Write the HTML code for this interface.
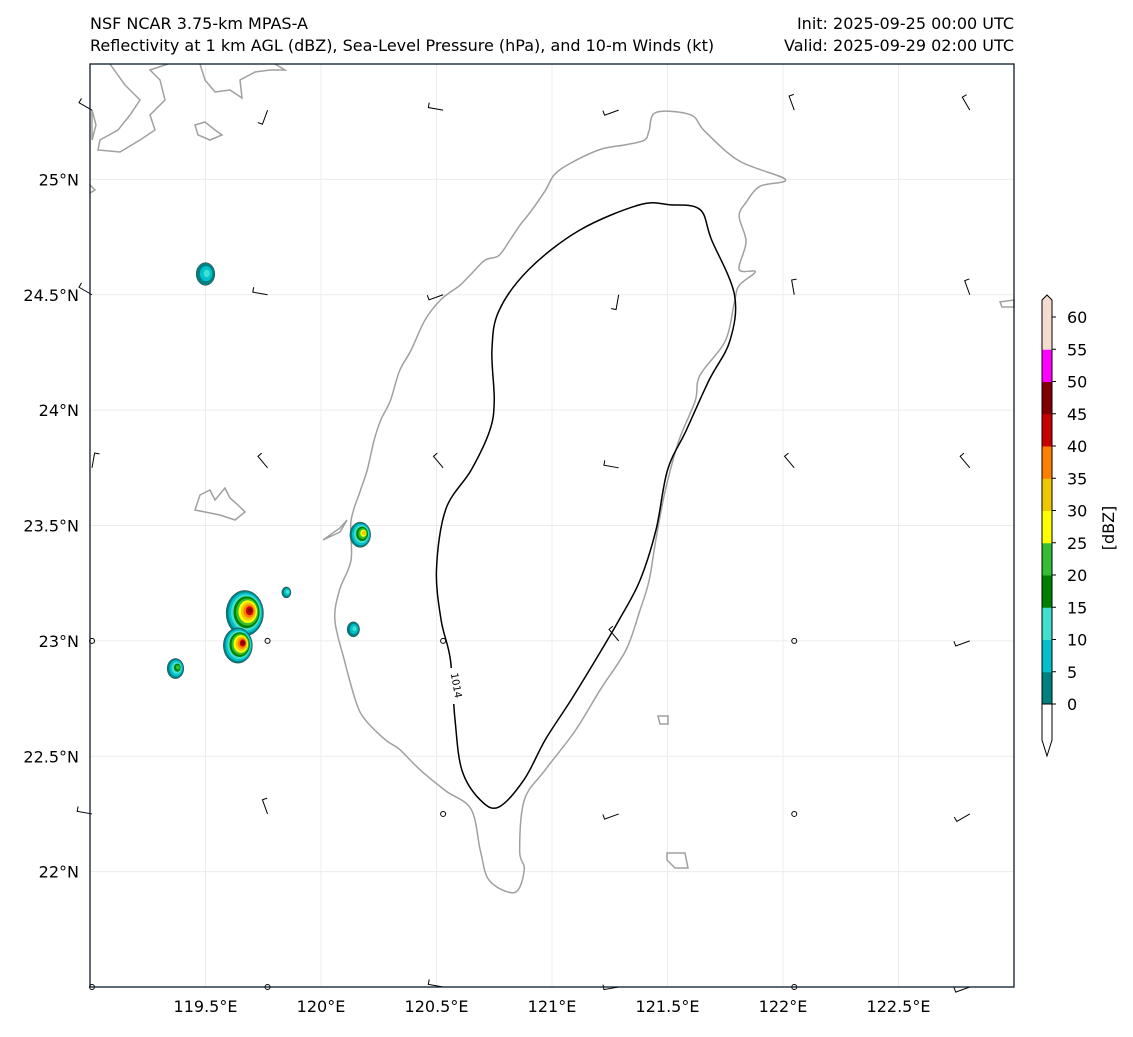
<!DOCTYPE html>
<html><head><meta charset="utf-8"><style>
body{margin:0;background:#fff;}
svg{font-family:"DejaVu Sans","Liberation Sans",sans-serif;}
</style></head><body>
<svg id="s" width="1133" height="1032" viewBox="0 0 1133 1032" xmlns="http://www.w3.org/2000/svg">
<text x="90" y="29" font-size="16">NSF NCAR 3.75-km MPAS-A</text>
<text x="90" y="51" font-size="16">Reflectivity at 1 km AGL (dBZ), Sea-Level Pressure (hPa), and 10-m Winds (kt)</text>
<text x="1014" y="29" font-size="16" text-anchor="end">Init: 2025-09-25 00:00 UTC</text>
<text x="1014" y="51" font-size="16" text-anchor="end">Valid: 2025-09-29 02:00 UTC</text>
<g id="grid"></g>
<g id="land"></g>
<g id="refl"></g>
<g id="slp"></g>
<g id="barbs"></g>
<rect x="90" y="64" width="924" height="923" fill="none" stroke="#0a1a2a" stroke-width="1.3"/>
<g id="axes"></g>
<g id="cbar"></g>
</svg>
<script>
const NS="http://www.w3.org/2000/svg";
const lonTicks=[119.5,120,120.5,121,121.5,122,122.5];
const lonLabels=["119.5°E","120°E","120.5°E","121°E","121.5°E","122°E","122.5°E"];
const latTicks=[25,24.5,24,23.5,23,22.5,22];
const latLabels=["25°N","24.5°N","24°N","23.5°N","23°N","22.5°N","22°N"];
const taiwanLon=[121.45,121.60,121.66,121.81,122.01,121.90,121.84,121.81,121.84,121.81,121.88,121.81,121.79,121.75,121.64,121.62,121.55,121.49,121.45,121.42,121.38,121.32,121.21,121.10,120.97,120.88,120.86,120.88,120.84,120.73,120.69,120.65,120.54,120.43,120.34,120.28,120.19,120.15,120.10,120.06,120.08,120.13,120.13,120.17,120.20,120.23,120.26,120.30,120.34,120.39,120.45,120.52,120.60,120.65,120.71,120.77,120.82,120.86,120.90,120.97,121.01,121.08,121.21,121.32,121.40,121.42];
const taiwanLat=[25.29,25.28,25.21,25.08,25.00,24.97,24.90,24.84,24.73,24.61,24.60,24.54,24.47,24.30,24.15,24.04,23.87,23.65,23.44,23.26,23.13,22.96,22.79,22.61,22.44,22.31,22.09,22.01,21.91,21.96,22.09,22.27,22.35,22.44,22.53,22.57,22.66,22.74,22.92,23.09,23.22,23.35,23.52,23.65,23.74,23.87,23.96,24.04,24.17,24.26,24.39,24.48,24.54,24.59,24.65,24.67,24.74,24.80,24.85,24.95,25.02,25.07,25.13,25.15,25.17,25.21];
const slpLon=[121.51,121.64,121.69,121.79,121.77,121.68,121.58,121.50,121.45,121.38,121.29,121.19,121.08,120.97,120.88,120.77,120.69,120.61,120.58,120.56,120.52,120.50,120.54,120.65,120.73,120.75,120.74,120.77,120.90,121.12,121.38];
const slpLat=[24.89,24.87,24.74,24.50,24.30,24.13,23.91,23.74,23.48,23.26,23.09,22.92,22.74,22.57,22.40,22.28,22.31,22.44,22.66,22.92,23.09,23.31,23.57,23.74,23.91,24.04,24.26,24.43,24.61,24.78,24.89];
const cellLon=[119.67,119.64,119.37,120.17,120.14,119.50,119.85];
const cellLat=[23.12,22.98,22.88,23.46,23.05,24.59,23.21];
const cellMax=[45,45,20,30,10,10,10];
const cellSize=[0.09,0.07,0.04,0.05,0.03,0.045,0.022];
const barbLon=[119.0,119.76,120.52,121.28,122.04,122.8];
const barbLat=[25.3,24.5,23.75,23.0,22.25,21.5];
const barbDir=[[300,200,280,250,340,330],[300,280,250,190,350,340],[10,320,320,280,320,320],[0,0,0,320,0,250],[280,340,0,250,0,240],[0,0,280,260,0,250]];
const levels=[0,5,10,15,20,25,30,35,40,45,50,55,60];
const colors=["#008080","#00c0cc","#40e0d0","#008000","#32c032","#ffff00","#f0c800","#ff8000","#c80000","#800000","#ff00ff","#f5dcd0"];
const X=lon=>90+(lon-119)*231, Y=lat=>64+(25.5-lat)*230.75;
function el(t,a,p){const e=document.createElementNS(NS,t);for(const k in a)e.setAttribute(k,a[k]);(p||document.getElementById('s')).appendChild(e);return e;}
const grid=document.getElementById('grid'),axes=document.getElementById('axes');
lonTicks.forEach((v,i)=>{const l=el('line',{x1:X(v),x2:X(v),y1:64,y2:987,stroke:"#ececec","stroke-width":1},grid);


const t=el('text',{x:X(v),y:1012,"font-size":16,"text-anchor":"middle"},axes);t.textContent=lonLabels[i];

});
latTicks.forEach((v,i)=>{const l=el('line',{x1:90,x2:1014,y1:Y(v),y2:Y(v),stroke:"#ececec","stroke-width":1},grid);


const t=el('text',{x:79,y:Y(v)+6,"font-size":16,"text-anchor":"end"},axes);t.textContent=latLabels[i];

});
function smooth(xs,ys,closed){const n=xs.length;let d=`M${xs[0]},${ys[0]}`;const g=i=>closed?(i+n)%n:Math.max(0,Math.min(n-1,i));
for(let i=0;i<(closed?n:n-1);i++){const p0=g(i-1),p1=g(i),p2=g(i+1),p3=g(i+2);
d+=`C${xs[p1]+(xs[p2]-xs[p0])/6},${ys[p1]+(ys[p2]-ys[p0])/6} ${xs[p2]-(xs[p3]-xs[p1])/6},${ys[p2]-(ys[p3]-ys[p1])/6} ${xs[p2]},${ys[p2]}`;}
return d+(closed?"Z":"");}
const land=document.getElementById('land');
const tw=el('path',{d:smooth(taiwanLon.map(X),taiwanLat.map(Y),true),fill:"none",stroke:"#a0a0a0","stroke-width":1.5},land);


const isl=["M195,510 L200,495 L210,490 L215,500 L225,488 L230,498 L238,505 L245,512 L235,520 L220,515 L205,512 Z",
"M323,540 L340,528 L347,520 L340,532 Z","M658,716 L668,716 L668,724 L660,724 Z","M667,853 L685,853 L688,868 L675,868 L667,860 Z",
"M1000,302 L1014,300 L1014,307 L1002,307 Z","M92,110 L96,125 L92,140 Z",
"M110,64 L125,85 L140,100 L130,115 L118,130 L100,140 L98,150 L120,152 L140,140 L155,130 L150,115 L165,100 L160,80 L150,70 L168,64",
"M195,125 L205,122 L215,130 L222,135 L210,140 L198,135 Z","M200,64 L205,80 L215,92 L230,90 L242,98 L240,80 L255,72 L270,70 L285,70 L275,64",
"M90,185 L95,190 L90,193"];
isl.forEach(d=>{const p=el('path',{d:d,fill:"none",stroke:"#a0a0a0","stroke-width":1.5},land);

});
const refl=document.getElementById('refl');
cellLon.forEach((lo,i)=>{const nLev=Math.floor(cellMax[i]/5)+1;for(let k=0;k<nLev&&k<colors.length;k++){const f=1-k/nLev;
const rx=cellSize[i]*231*f*0.9,ry=cellSize[i]*230*f*1.1;
const e=el('ellipse',{cx:X(lo)+k*0.6,cy:Y(cellLat[i])-k*0.3,rx:Math.max(rx,2),ry:Math.max(ry,2),fill:colors[k],stroke:k==0?"#444":"none","stroke-width":0.5},refl);

}});
const slp=document.getElementById('slp');
const c=el('path',{d:smooth(slpLon.map(X),slpLat.map(Y),true),fill:"none",stroke:"#000","stroke-width":1.5},slp);


const bg=el('rect',{x:448,y:668,width:14,height:36,fill:"#fff"},slp);


const lt=el('text',{x:0,y:0,"font-size":10,"text-anchor":"middle",transform:"translate(453,686) rotate(80)"},slp);lt.textContent="1014";


const barbs=document.getElementById('barbs');
barbLat.forEach((la,r)=>barbLon.forEach((lo,ci)=>{const x=X(lo)+2,y=Y(la),dir=barbDir[r][ci];
if(dir===0){const o=el('circle',{cx:x,cy:y,r:2.5,fill:"none",stroke:"#000","stroke-width":1},barbs);

return;}
const a=dir*Math.PI/180,L=15,ex=x+L*Math.sin(a),ey=y-L*Math.cos(a);
const g=el('path',{d:`M${x},${y}L${ex},${ey}L${ex+5*Math.cos(a)},${ey+5*Math.sin(a)}`,fill:"none",stroke:"#000","stroke-width":1},barbs);

}));
const cb=document.getElementById('cbar');const cbTop=317,step=(704-317)/12,cx=1042,w=10;
colors.forEach((col,i)=>{const r=el('rect',{x:cx,y:704-(i+1)*step,width:w,height:step+0.5,fill:col},cb);

});
const lo=el('path',{d:`M${cx},704 L${cx+w},704 L${cx+w},740 L${cx+w/2},756 L${cx},740 Z`,fill:"#fff",stroke:"#000","stroke-width":1},cb);


const hi=el('path',{d:`M${cx},${cbTop} L${cx},300 L${cx+w/2},295 L${cx+w},300 L${cx+w},${cbTop} Z`,fill:colors[11],stroke:"none"},cb);


const ob=el('path',{d:`M${cx},704 L${cx},300 L${cx+w/2},295 L${cx+w},300 L${cx+w},704`,fill:"none",stroke:"#000","stroke-width":1},cb);


levels.forEach((v,i)=>{const y=704-i*step;const tk=el('line',{x1:cx+w,x2:cx+w+4,y1:y,y2:y,stroke:"#000"},cb);


const t=el('text',{x:1067,y:y+6,"font-size":16},cb);t.textContent=v;

});
const cl=el('text',{x:0,y:0,"font-size":16,"text-anchor":"middle",transform:"translate(1114,528) rotate(-90)"},cb);cl.textContent="[dBZ]";


</script>
</body></html>
